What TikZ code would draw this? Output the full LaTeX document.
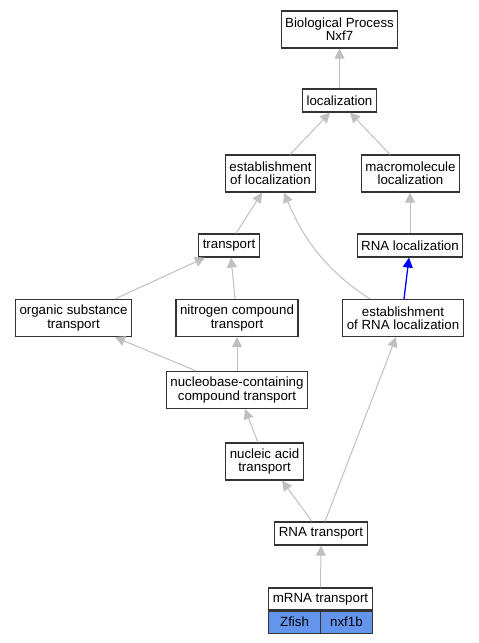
\documentclass[tikz,border=0pt]{standalone}
\usepackage{fontspec}
\setmainfont{Liberation Sans}
\usetikzlibrary{arrows.meta}
\definecolor{edgegray}{HTML}{C0C0C0}
\definecolor{boxline}{HTML}{333333}
\definecolor{genefill}{HTML}{6495ED}
\begin{document}
\begin{tikzpicture}[x=1pt, y=-1pt,
    >={Triangle[length=10pt,width=10pt]},
    term/.style={draw=boxline, line width=1.2pt, fill=white, align=center,
        inner xsep=4pt, inner ysep=1pt, minimum height=23pt,
        font=\fontsize{13.3}{13.3}\selectfont},
    term2/.style={term, minimum height=37pt},
    cell/.style={term, minimum height=22pt, minimum width=51.5pt, fill=genefill},
    e/.style={->, draw=edgegray, line width=1pt},
    eb/.style={->, draw=blue, line width=1.3pt}]
    \useasboundingbox (0,0) rectangle (479,643);

    % terms
    \node[term2] (bp)  at (339.5,29.5) {Biological Process\\Nxf7};
    \node[term]  (loc) at (339.5,100.5) {localization};
    \node[term2] (eol) at (270.5,173.5) {establishment\\of localization};
    \node[term2] (mml) at (410.5,173.5) {macromolecule\\localization};
    \node[term]  (tr)  at (229,245.5) {transport};
    \node[term]  (rnl) at (410,245.5) {RNA localization};
    \node[term2] (ost) at (73.5,318) {organic substance\\transport};
    \node[term2] (nct) at (237,318) {nitrogen compound\\transport};
    \node[term2] (erl) at (403,318) {establishment\\of RNA localization};
    \node[term2] (ncc) at (237,390) {nucleobase-containing\\compound transport};
    \node[term2] (nat) at (264.5,461.5) {nucleic acid\\transport};
    \node[term]  (rnt) at (321,533.5) {RNA transport};
    \node[term, minimum width=103pt, minimum height=22pt] (mrt) at (320.5,599) {mRNA transport};
    \node[cell, anchor=north west] (zf) at (mrt.south west) {Zfish};
    \node[cell, anchor=north east] (nx) at (mrt.south east) {nxf1b};

    % is_a edges
    \draw[e] (loc.north) -- (bp.south);
    \draw[e] ([xshift=19.5pt]eol.north) -- ([xshift=-9.5pt]loc.south);
    \draw[e] ([xshift=-20.5pt]mml.north) -- ([xshift=10.5pt]loc.south);
    \draw[e] ([xshift=7pt]tr.north) -- ([xshift=-8.5pt]eol.south);
    \draw[e] (rnl.north) -- (rnl.north |- mml.south);
    \draw[e] ([xshift=41.5pt]ost.north) -- ([xshift=-24pt]tr.south);
    \draw[e] ([xshift=-2pt]nct.north) -- ([xshift=2pt]tr.south);
    \draw[e] ([xshift=-33pt]erl.north) .. controls +(-50,-32) and +(16,38) .. ([xshift=13.5pt]eol.south);
    \draw[eb] ([xshift=1pt]erl.north) -- ([xshift=-1pt]rnl.south);
    \draw[e] ([xshift=-41pt]ncc.north) -- ([xshift=41.5pt]ost.south);
    \draw[e] (ncc.north) -- (nct.south);
    \draw[e] ([xshift=-6.5pt]nat.north) -- ([xshift=8pt]ncc.south);
    \draw[e] ([xshift=-9pt]rnt.north) -- ([xshift=17.5pt]nat.south);
    \draw[e] ([xshift=4pt]rnt.north) -- ([xshift=-7pt]erl.south);
    \draw[e] (mrt.north) -- (rnt.south);
\end{tikzpicture}
\end{document}
